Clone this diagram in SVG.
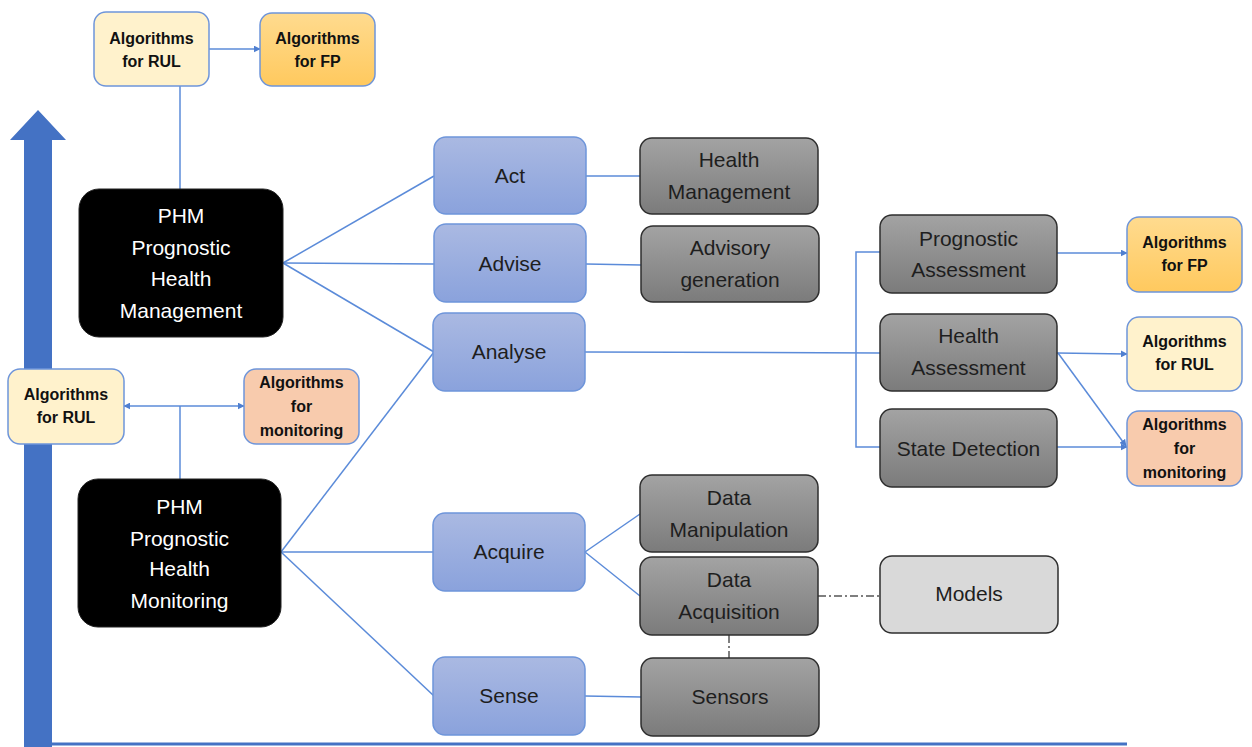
<svg xmlns="http://www.w3.org/2000/svg" width="1252" height="747" viewBox="0 0 1252 747">
<defs>
<linearGradient id="gBlue" x1="0" y1="0" x2="0" y2="1"><stop offset="0" stop-color="#AAB9E2"/><stop offset="1" stop-color="#8AA2DC"/></linearGradient>
<linearGradient id="gGray" x1="0" y1="0" x2="0" y2="1"><stop offset="0" stop-color="#A3A3A3"/><stop offset="1" stop-color="#7B7B7B"/></linearGradient>
<linearGradient id="gFP" x1="0" y1="0" x2="0" y2="1"><stop offset="0" stop-color="#FFDB8F"/><stop offset="1" stop-color="#FFC95E"/></linearGradient>
<marker id="arr" viewBox="0 0 10 10" refX="9" refY="5" markerWidth="7" markerHeight="7" orient="auto-start-reverse" markerUnits="userSpaceOnUse"><path d="M0,0 L10,5 L0,10 z" fill="#4F7FD0"/></marker>
<style>
.blue{fill:url(#gBlue);stroke:#6E95DA;stroke-width:1.5}
.gray{fill:url(#gGray);stroke:#2E2E2E;stroke-width:1.5}
.black{fill:#000;stroke:#222;stroke-width:1}
.rul{fill:#FFF2CC;stroke:#6E95DA;stroke-width:1.5}
.fp{fill:url(#gFP);stroke:#6E95DA;stroke-width:1.5}
.mon{fill:#F8CBAD;stroke:#6E95DA;stroke-width:1.5}
.models{fill:#D9D9D9;stroke:#2E2E2E;stroke-width:1.5}
text{font-family:"Liberation Sans",Arial,sans-serif;text-anchor:middle}
.t{font-size:21px;fill:#1E1E1E}
.w{font-size:21px;fill:#FFFFFF}
.b{font-size:16px;font-weight:bold;fill:#111}
.c{fill:none;stroke:#5B8BD9;stroke-width:1.5}
.d{fill:none;stroke:#555;stroke-width:1.5;stroke-dasharray:8,3,2,3}
</style>
</defs>
<g id="axis">
<polygon points="24,747 24,140 10,140 38,110 66,140 52,140 52,747" fill="#4472C4"/>
<line x1="52" y1="744" x2="1127" y2="744" stroke="#4472C4" stroke-width="3"/>
</g>
<g id="connectors">
<line class="c" x1="209" y1="49" x2="260" y2="49" marker-end="url(#arr)"/>
<line class="c" x1="180" y1="86" x2="180" y2="189"/>
<line class="c" x1="124" y1="406" x2="244" y2="406" marker-start="url(#arr)" marker-end="url(#arr)"/>
<line class="c" x1="180" y1="406" x2="180" y2="479"/>
<line class="c" x1="283" y1="263" x2="434" y2="176"/>
<line class="c" x1="283" y1="263" x2="434" y2="264"/>
<line class="c" x1="283" y1="263" x2="434" y2="352"/>
<line class="c" x1="281" y1="552" x2="434" y2="352"/>
<line class="c" x1="281" y1="552" x2="434" y2="552"/>
<line class="c" x1="281" y1="552" x2="434" y2="696"/>
<line class="c" x1="586" y1="176" x2="640" y2="176"/>
<line class="c" x1="586" y1="264" x2="641" y2="265"/>
<line class="c" x1="585" y1="352" x2="880" y2="353"/>
<polyline class="c" points="880,252 856,252 856,447 880,447"/>
<line class="c" x1="1057" y1="253" x2="1127" y2="253" marker-end="url(#arr)"/>
<line class="c" x1="1057" y1="353" x2="1127" y2="354" marker-end="url(#arr)"/>
<line class="c" x1="1058" y1="353" x2="1126" y2="446" marker-end="url(#arr)"/>
<line class="c" x1="1057" y1="447" x2="1127" y2="447" marker-end="url(#arr)"/>
<line class="c" x1="585" y1="552" x2="640" y2="514"/>
<line class="c" x1="585" y1="552" x2="640" y2="596"/>
<line class="c" x1="585" y1="696" x2="641" y2="697"/>
<line class="d" x1="818" y1="596" x2="880" y2="596"/>
<line class="d" x1="729" y1="635" x2="729" y2="658"/>
</g>
<g id="rul-top"><rect class="rul" x="94" y="12" width="115" height="74" rx="12"/><text class="b" x="151.5" y="44">Algorithms</text><text class="b" x="151.5" y="67">for RUL</text></g>
<g id="fp-top"><rect class="fp" x="260" y="13" width="115" height="73" rx="12"/><text class="b" x="317.5" y="44">Algorithms</text><text class="b" x="317.5" y="67">for FP</text></g>
<g id="phm-management"><rect class="black" x="79" y="189" width="204" height="148" rx="20"/><text class="w" x="181" y="223">PHM</text><text class="w" x="181" y="255">Prognostic</text><text class="w" x="181" y="286">Health</text><text class="w" x="181" y="318">Management</text></g>
<g id="rul-left"><rect class="rul" x="8" y="369" width="116" height="75" rx="12"/><text class="b" x="66" y="400">Algorithms</text><text class="b" x="66" y="423">for RUL</text></g>
<g id="mon-left"><rect class="mon" x="244" y="369" width="115" height="75" rx="12"/><text class="b" x="301.5" y="388">Algorithms</text><text class="b" x="301.5" y="412">for</text><text class="b" x="301.5" y="436">monitoring</text></g>
<g id="phm-monitoring"><rect class="black" x="78" y="479" width="203" height="148" rx="20"/><text class="w" x="179.5" y="514">PHM</text><text class="w" x="179.5" y="546">Prognostic</text><text class="w" x="179.5" y="576">Health</text><text class="w" x="179.5" y="608">Monitoring</text></g>
<g id="act"><rect class="blue" x="434" y="137" width="152" height="77" rx="12"/><text class="t" x="510" y="183">Act</text></g>
<g id="advise"><rect class="blue" x="434" y="224" width="152" height="78" rx="12"/><text class="t" x="510" y="271">Advise</text></g>
<g id="analyse"><rect class="blue" x="433" y="313" width="152" height="78" rx="12"/><text class="t" x="509" y="359">Analyse</text></g>
<g id="acquire"><rect class="blue" x="433" y="513" width="152" height="78" rx="12"/><text class="t" x="509" y="559">Acquire</text></g>
<g id="sense"><rect class="blue" x="433" y="657" width="152" height="78" rx="12"/><text class="t" x="509" y="703">Sense</text></g>
<g id="health-management"><rect class="gray" x="640" y="138" width="178" height="76" rx="12"/><text class="t" x="729" y="167">Health</text><text class="t" x="729" y="199">Management</text></g>
<g id="advisory-generation"><rect class="gray" x="641" y="226" width="178" height="76" rx="12"/><text class="t" x="730" y="255">Advisory</text><text class="t" x="730" y="287">generation</text></g>
<g id="prognostic-assessment"><rect class="gray" x="880" y="215" width="177" height="78" rx="12"/><text class="t" x="968.5" y="246">Prognostic</text><text class="t" x="968.5" y="277">Assessment</text></g>
<g id="health-assessment"><rect class="gray" x="880" y="314" width="177" height="77" rx="12"/><text class="t" x="968.5" y="343">Health</text><text class="t" x="968.5" y="375">Assessment</text></g>
<g id="state-detection"><rect class="gray" x="880" y="409" width="177" height="78" rx="12"/><text class="t" x="968.5" y="456">State Detection</text></g>
<g id="fp-right"><rect class="fp" x="1127" y="217" width="115" height="75" rx="12"/><text class="b" x="1184.5" y="248">Algorithms</text><text class="b" x="1184.5" y="271">for FP</text></g>
<g id="rul-right"><rect class="rul" x="1127" y="317" width="115" height="74" rx="12"/><text class="b" x="1184.5" y="347">Algorithms</text><text class="b" x="1184.5" y="370">for RUL</text></g>
<g id="mon-right"><rect class="mon" x="1127" y="411" width="115" height="75" rx="12"/><text class="b" x="1184.5" y="430">Algorithms</text><text class="b" x="1184.5" y="454">for</text><text class="b" x="1184.5" y="478">monitoring</text></g>
<g id="data-manipulation"><rect class="gray" x="640" y="475" width="178" height="77" rx="12"/><text class="t" x="729" y="505">Data</text><text class="t" x="729" y="537">Manipulation</text></g>
<g id="data-acquisition"><rect class="gray" x="640" y="557" width="178" height="78" rx="12"/><text class="t" x="729" y="587">Data</text><text class="t" x="729" y="619">Acquisition</text></g>
<g id="models"><rect class="models" x="880" y="556" width="178" height="77" rx="12"/><text class="t" x="969" y="601">Models</text></g>
<g id="sensors"><rect class="gray" x="641" y="658" width="178" height="78" rx="12"/><text class="t" x="730" y="704">Sensors</text></g>
</svg>
